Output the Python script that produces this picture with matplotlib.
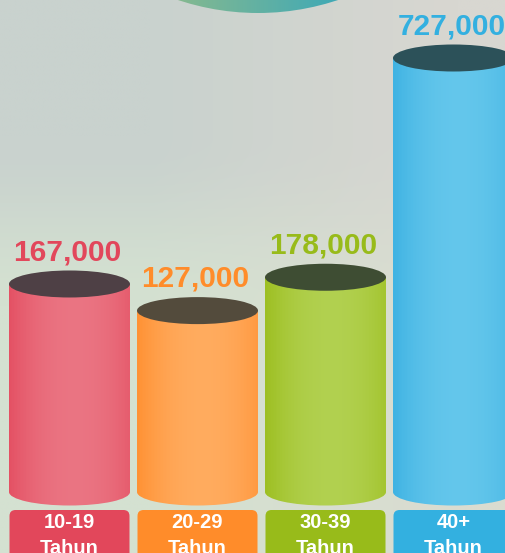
import numpy as np
import matplotlib
matplotlib.use('Agg')
import matplotlib.pyplot as plt
from matplotlib.patches import Ellipse, Circle, FancyBboxPatch
from matplotlib.transforms import ScaledTranslation, blended_transform_factory
from matplotlib.colors import to_rgb

# ---------------- data ----------------
categories = ['10-19', '20-29', '30-39', '40+']
category_suffix = 'Tahun'
values = [167000, 127000, 178000, 727000]
value_labels = ['167,000', '127,000', '178,000', '727,000']
side_edge = ['#e2475b', '#ff8a28', '#97ba14', '#35ade0']
side_light = ['#ea7482', '#ffab5e', '#b1d04f', '#63c6eb']
top_colors = ['#4e4045', '#534b3c', '#3e4d33', '#2c5159']
text_colors = ['#e2475b', '#ff8c2a', '#98bb1a', '#33b0e0']

plt.rcParams['font.family'] = ['Liberation Sans', 'DejaVu Sans']

W, H = 506, 553
DPI = 100
fig = plt.figure(figsize=(W / DPI, H / DPI), dpi=DPI)

# ---------------- background ----------------
bg = fig.add_axes([0, 0, 1, 1])
bg.set_axis_off()
ny, nx = 120, 120
yf = np.linspace(0, 1, ny)[:, None]   # 0 = bottom
xf = np.linspace(0, 1, nx)[None, :]
def lerp(a, b, t):
    return np.asarray(a)[None, None, :] * (1 - t[..., None]) + np.asarray(b)[None, None, :] * t[..., None]
TL, TR = to_rgb('#c9d2ce'), to_rgb('#d8d7d1')
BL, BR = to_rgb('#d4e1d1'), to_rgb('#dadcd0')
s = np.clip((yf - 0.45) / 0.3, 0, 1)
s = s * s * (3 - 2 * s)
s = np.broadcast_to(s, (ny, nx))
xw = np.broadcast_to(np.clip((xf - 0.3) / 0.6, 0, 1), (ny, nx))
top = lerp(TL, TR, xw)
bot = lerp(BL, BR, xw)
img = bot * (1 - s[..., None]) + top * s[..., None]
bg.imshow(img, origin='lower', extent=(0, W, 0, H), aspect='auto', interpolation='bilinear')
# decorative circle at top
cx, cy, r = 258, H + 240, 253
circ = Circle((cx, cy), r, transform=bg.transData, facecolor='none', edgecolor='none')
bg.add_patch(circ)
grad = np.linspace(0, 1, 200)[None, :]
cimg = lerp(to_rgb('#86b98f'), to_rgb('#3fa9b6'), np.clip((grad * (2 * r) - (175 - (cx - r))) / 165, 0, 1))
ci = bg.imshow(cimg, origin='lower', extent=(cx - r, cx + r, H - 20, H), aspect='auto', interpolation='bilinear')
ci.set_clip_path(circ)
bg.set_xlim(0, W)
bg.set_ylim(0, H)

# ---------------- main axes ----------------
ax = fig.add_axes([0, 0, 1, 1])
ax.patch.set_alpha(0)
ax.set_axis_off()

def fwd(y):
    y = np.asarray(y, dtype=float)
    return np.sign(y) * np.sqrt(np.abs(y))

def inv(v):
    v = np.asarray(v, dtype=float)
    return np.sign(v) * v ** 2

ax.set_yscale('function', functions=(fwd, inv))
x0px, spacing = 69.5, 128.0
ax.set_xlim(-x0px / spacing, (W - x0px) / spacing)
base = 61.0
k = 434.0 / np.sqrt(max(values))
ybot = float(inv(-base / k))
ax.set_ylim(ybot, float(inv((H - base) / k)))

bw = 121.0 / spacing
N = 80
t = (np.arange(N) + 0.5) / N
wprof = np.clip(1 - ((t - 0.55) / 0.62) ** 2, 0, 1)
ell_w, ell_h = 1.21, 0.27

xb = blended_transform_factory(ax.transData, fig.transFigure)

for i, v in enumerate(values):
    ce = np.array(to_rgb(side_edge[i]))
    cl = np.array(to_rgb(side_light[i]))
    cols = [tuple(ce * (1 - w) + cl * w) for w in wprof]
    lefts = i - bw / 2 + np.arange(N) * bw / N
    # body
    ax.bar(lefts, [v] * N, width=bw / N, align='edge', color=cols,
           linewidth=0, antialiased=False, zorder=2)
    # rounded bottom
    bottom_ell = Ellipse((0, 0), ell_w, ell_h,
                         transform=fig.dpi_scale_trans + ScaledTranslation(i, 0, ax.transData))
    bc = ax.bar(lefts, [0 - ybot] * N, bottom=ybot, width=bw / N, align='edge',
                color=cols, linewidth=0, antialiased=False, zorder=1.9)
    for rect in bc:
        rect.set_clip_path(bottom_ell)
    # top
    top_ell = Ellipse((0, 0), ell_w, ell_h, facecolor=top_colors[i], edgecolor='none',
                      transform=fig.dpi_scale_trans + ScaledTranslation(i, v, ax.transData),
                      zorder=3)
    ax.add_patch(top_ell)
    # value label
    ax.annotate(value_labels[i], xy=(i, v), xytext=(-1.5, 17), textcoords='offset points',
                ha='center', va='baseline', fontsize=21.5, fontweight='bold',
                color=text_colors[i], zorder=4)
    # category box
    box = FancyBboxPatch((-0.60, -0.2), 1.20, 0.63,
                         boxstyle='round,pad=0,rounding_size=0.06',
                         transform=fig.dpi_scale_trans + ScaledTranslation(i, 0, xb),
                         facecolor=text_colors[i], edgecolor='none', zorder=2)
    ax.add_patch(box)
    ax.text(i, 25 / H, categories[i], transform=xb, ha='center', va='baseline',
            color='white', fontsize=14.5, fontweight='bold', zorder=4)
    ax.text(i, -1.5 / H, category_suffix, transform=xb, ha='center', va='baseline',
            color='white', fontsize=14.5, fontweight='bold', zorder=4)

fig.savefig('out.png', dpi=DPI)
